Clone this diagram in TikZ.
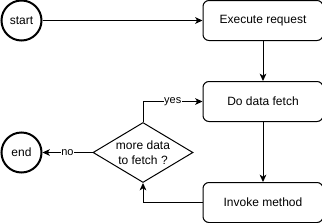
\documentclass[tikz,border=0pt]{standalone}
\usepackage{fontspec}
\setmainfont{Liberation Sans}
\usetikzlibrary{shapes.geometric, arrows.meta, positioning}
\definecolor{mydark}{RGB}{0,0,0}
\tikzset{
  termnode/.style={circle, draw=mydark, fill=white, minimum size=30pt,
    inner sep=0pt, line width=1.5pt, font=\fontsize{9}{11}\selectfont},
  block/.style={rectangle, draw=mydark, fill=white, minimum width=90pt,
    minimum height=30pt, rounded corners=4.5pt, line width=0.75pt,
    font=\fontsize{9}{11}\selectfont},
  decision/.style={diamond, draw=mydark, fill=white, minimum width=75pt,
    minimum height=45pt, inner sep=0pt, aspect=1.67, align=center,
    line width=0.75pt, font=\fontsize{9}{11}\selectfont},
  arrow/.style={-{Stealth[length=5.5pt, width=5pt, inset=1.5pt]},
    line width=0.75pt, color=mydark},
  edgelabel/.style={fill=white, inner sep=0.5pt, font=\fontsize{8.25}{10}\selectfont}
}
\begin{document}
\begin{tikzpicture}[x=0.75pt, y=-0.75pt]
  \useasboundingbox (0,0) rectangle (322,222);
  % left column: start and end
  \node[termnode] (start) at (21.5,20.5) {start};
  \node[termnode, below=67.5pt of start] (end) {end};
  % right column: the three steps
  \node[block, right=120pt of start] (exec) {Execute request};
  \node[block, below=30pt of exec] (fetch) {Do data fetch};
  \node[block, below=45pt of fetch] (invoke) {Invoke method};
  % the check between them
  \node[decision, right=37.5pt of end] (more) {more data\\to fetch ?};
  % connectors
  \draw[arrow] (start) -- (exec);
  \draw[arrow] (exec) -- (fetch);
  \draw[arrow] (fetch) -- (invoke);
  \draw[arrow] (invoke.west) -| (more.south);
  \draw[arrow] (more.north) |- node[edgelabel, pos=0.75] {yes} (fetch.west);
  \draw[arrow] (more.west) -- node[edgelabel] {no} (end);
\end{tikzpicture}
\end{document}
